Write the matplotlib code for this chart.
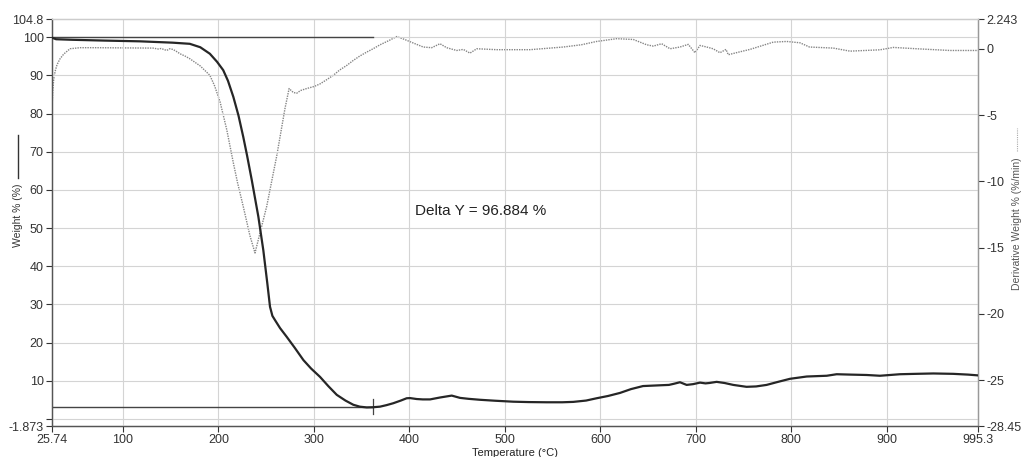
import matplotlib
matplotlib.use("Agg")
import matplotlib.pyplot as plt
from matplotlib.lines import Line2D

plt.rcParams["font.family"] = ["Liberation Sans", "DejaVu Sans"]

# TGA weight curve (left axis)
wt_temp = [25.74, 30, 47.7, 80, 118, 152, 170, 181, 191, 198.5, 205, 210, 215.6, 221,
           226, 230, 234.9, 241.8, 247, 251.2, 254, 256.5, 259.2, 264.5, 271.5, 280,
           289, 297, 306.4, 315, 323.9, 333, 341.2, 348, 355.3, 362, 369.2, 376,
           383.1, 391, 397.1, 400.6, 407.6, 414, 421.6, 432, 444.3, 453, 462, 474,
           490, 508.8, 525, 543.7, 560, 571.6, 585, 596, 608, 620.5, 632, 644.6,
           662.4, 671.7, 677, 683.3, 690.3, 697, 704.3, 710, 714, 721.7, 730, 739.1,
           753, 763, 774, 786, 798.5, 816, 837, 847.4, 862, 878.8, 892.7, 913.7,
           930, 948.6, 969.5, 985, 995.3]
weight = [99.9, 99.5, 99.35, 99.15, 98.95, 98.6, 98.3, 97.4, 95.7, 93.6, 91.4, 88.6,
          84.4, 79.5, 73.9, 69.0, 62.6, 53.0, 44.2, 35.5, 29.4, 27.0, 25.9, 23.8,
          21.5, 18.6, 15.4, 13.2, 11.0, 8.6, 6.3, 4.8, 3.7, 3.2, 3.0, 3.05, 3.2,
          3.6, 4.1, 4.8, 5.4, 5.45, 5.2, 5.1, 5.1, 5.6, 6.1, 5.5, 5.25, 5.0, 4.75,
          4.5, 4.4, 4.35, 4.35, 4.45, 4.8, 5.4, 6.0, 6.8, 7.8, 8.6, 8.8, 8.9, 9.2,
          9.6, 8.9, 9.1, 9.5, 9.3, 9.4, 9.7, 9.4, 8.9, 8.4, 8.5, 8.9, 9.7, 10.5,
          11.1, 11.3, 11.7, 11.6, 11.5, 11.3, 11.7, 11.8, 11.9, 11.8, 11.6, 11.4]

# DTG derivative curve (right axis)
dtg_temp = [25.74, 26.5, 27.5, 29, 31, 34.1, 38, 44.6, 55, 70, 131.5, 137, 140, 145.8,
            149, 152.4, 156, 159.8, 165, 170.2, 181, 191, 196, 201.7, 208.7, 215.6,
            220, 226, 233, 238.3, 243.5, 250.5, 261, 269.7, 274, 278.4, 282, 286,
            292.4, 300, 306.4, 313, 320.3, 327, 334.3, 341.2, 348, 355.3, 362, 369.2,
            378, 386.7, 395, 404.1, 414.5, 423.3, 432, 439, 449.5, 456.4, 463.4,
            470.5, 491.4, 526.3, 561.1, 580, 596, 617, 634.4, 648.4, 655.4, 664.1,
            672.9, 683.3, 692, 699, 704.3, 711.3, 718, 725.2, 731.5, 733.9, 745,
            756.6, 781, 795, 808.9, 819, 843.9, 861.3, 892.7, 906.7, 931, 966, 995.3]
deriv = [-4.5, -3.2, -2.3, -1.7, -1.2, -0.76, -0.4, 0.0, 0.08, 0.08, 0.05, -0.02, 0.02,
         -0.13, 0.0, -0.05, -0.2, -0.38, -0.55, -0.76, -1.3, -2.0, -2.8, -4.0, -6.1,
         -8.6, -10.1, -11.9, -14.1, -15.4, -13.9, -11.9, -8.1, -4.5, -3.0, -3.3,
         -3.35, -3.15, -3.0, -2.85, -2.65, -2.35, -2.0, -1.6, -1.26, -0.88, -0.55,
         -0.25, 0.0, 0.3, 0.6, 0.92, 0.7, 0.43, 0.13, 0.08, 0.38, 0.08, -0.13, -0.05,
         -0.33, 0.0, -0.07, -0.07, 0.13, 0.3, 0.55, 0.76, 0.7, 0.3, 0.2, 0.38, 0.0,
         0.13, 0.33, -0.3, 0.25, 0.13, 0.0, -0.3, -0.05, -0.45, -0.25, -0.05, 0.5,
         0.55, 0.45, 0.13, 0.05, -0.18, -0.08, 0.1, 0.0, -0.13, -0.13]

x_ticks = [25.74, 100, 200, 300, 400, 500, 600, 700, 800, 900, 995.3]
x_labels = ["25.74", "100", "200", "300", "400", "500", "600", "700", "800", "900", "995.3"]
left_ticks = [104.8, 100, 90, 80, 70, 60, 50, 40, 30, 20, 10, 0, -1.873]
left_labels = ["104.8", "100", "90", "80", "70", "60", "50", "40", "30", "20", "10", "", "-1.873"]
right_ticks = [2.243, 0, -5, -10, -15, -20, -25, -28.45]
right_labels = ["2.243", "0", "-5", "-10", "-15", "-20", "-25", "-28.45"]

# step-analysis markers
step_start_temp = 25.74
step_end_temp = 361.9
step_top = 100.0
step_bottom = 3.116
delta_text = "Delta Y = 96.884 %"

fig = plt.figure(figsize=(10.24, 4.57), dpi=100)
ax = fig.add_axes([0.0508, 0.0678, 0.9042, 0.8906])
ax.set_xlim(25.74, 995.3)
ax.set_ylim(-1.873, 104.8)

grid_c = "#d4d4d4"
for xv in x_ticks[1:-1]:
    ax.axvline(xv, color=grid_c, lw=0.8, zorder=0)
for yv in left_ticks[1:-1]:
    ax.axhline(yv, color=grid_c, lw=0.8, zorder=0)

ax2 = ax.twinx()
ax2.set_ylim(-28.45, 2.243)
ax2.plot(dtg_temp, deriv, color="#858585", lw=1.0, linestyle=(0, (1, 0.8)))

ax.plot(wt_temp, weight, color="#262626", lw=1.6, zorder=3)
ax.set_zorder(ax2.get_zorder() + 1)
ax.patch.set_visible(False)

# step lines
ax.plot([step_start_temp, step_end_temp], [step_top, step_top], color="#444444", lw=1.0)
ax.plot([step_start_temp, step_end_temp], [step_bottom, step_bottom], color="#444444", lw=1.0)
ax.plot([step_end_temp, step_end_temp], [1.2, 5.1], color="#444444", lw=0.9)
ax.text(405.8, 54.4, delta_text, fontsize=11, color="#222222", va="center", ha="left")

ax.set_xticks(x_ticks)
ax.set_xticklabels(x_labels)
ax.set_yticks(left_ticks)
ax.set_yticklabels(left_labels)
ax2.set_yticks(right_ticks)
ax2.set_yticklabels(right_labels)

for a in (ax, ax2):
    a.tick_params(direction="out", length=4, width=0.8, labelsize=9,
                  colors="#333333", pad=2)
    for s in a.spines.values():
        s.set_color("#555555")
        s.set_linewidth(0.9)
    a.spines["top"].set_color("#cccccc")
    a.spines["right"].set_color("#999999")

ax.set_xlabel("Temperature (°C)", fontsize=8, color="#222222", labelpad=1)

# axis titles with line-style samples
fig.text(0.018, 0.53, "Weight % (%)", rotation=90, fontsize=7.5, color="#333333",
         ha="center", va="center")
fig.add_artist(Line2D([0.018, 0.018], [0.61, 0.705], color="#333333", lw=1.0))
fig.text(0.993, 0.51, "Derivative Weight % (%/min)", rotation=90, fontsize=7.5,
         color="#555555", ha="center", va="center")
fig.add_artist(Line2D([0.993, 0.993], [0.67, 0.72], color="#aaaaaa", lw=0.8,
                      linestyle=(0, (1, 1))))

fig.savefig("out.png", dpi=100, facecolor="white")
